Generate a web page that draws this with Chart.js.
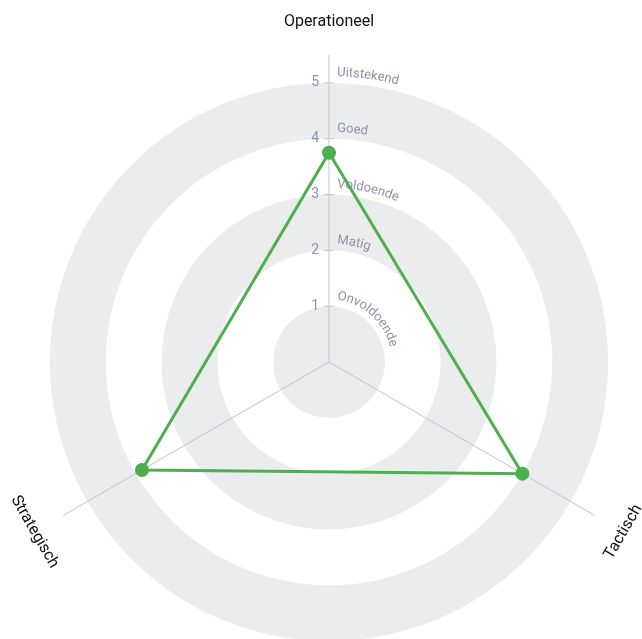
<!DOCTYPE html>
<html lang="nl">
<head>
  <meta charset="UTF-8">
  <title>Niveau radar</title>
  <style>
    html, body {
      margin: 0;
      padding: 0;
      background: #ffffff;
      overflow: hidden;
    }

    .chart-container {
      position: relative;
      width: 642px;
      height: 725px;
    }
  </style>
</head>
<body>

  <div class="chart-container">
    <canvas id="radarChart"></canvas>
  </div>

  <script src="https://cdn.jsdelivr.net/npm/chart.js"></script>

  <script>
    const axes = ["Operationeel", "Tactisch", "Strategisch"];
    const scores = [3.75, 4, 3.87];
    const tickValues = [1, 2, 3, 4, 5];
    const levelNames = ["Onvoldoende", "Matig", "Voldoende", "Goed", "Uitstekend"];

    const bandGrey = "#ebecee";
    const lineGrey = "#bfc5ce";
    const textGrey = "#8a93a5";
    const green = "#4caf50";

    Chart.defaults.font.family = "Roboto, 'Open Sans', sans-serif";

    // alternating grey / white rings, drawn from the outside in
    const bandsPlugin = {
      id: "bands",
      beforeDraw(chart) {
        const scale = chart.scales.r;
        const ctx = chart.ctx;
        ctx.save();
        for (let i = tickValues.length - 1; i >= 0; i--) {
          const r = scale.getDistanceFromCenterForValue(tickValues[i]);
          ctx.beginPath();
          ctx.arc(scale.xCenter, scale.yCenter, r, 0, Math.PI * 2);
          ctx.fillStyle = (tickValues.length - 1 - i) % 2 === 0 ? bandGrey : "#ffffff";
          ctx.fill();
        }
        ctx.restore();
      }
    };

    // tick marks, numbers, curved level names and rotated axis names
    const labelsPlugin = {
      id: "labels",
      beforeDatasetsDraw(chart) {
        const scale = chart.scales.r;
        const ctx = chart.ctx;
        const cx = scale.xCenter;
        const cy = scale.yCenter;
        ctx.save();

        tickValues.forEach((v, i) => {
          const d = scale.getDistanceFromCenterForValue(v);

          ctx.strokeStyle = lineGrey;
          ctx.lineWidth = 1;
          ctx.beginPath();
          ctx.moveTo(cx - 5, cy - d);
          ctx.lineTo(cx + 5, cy - d);
          ctx.stroke();

          ctx.fillStyle = textGrey;
          ctx.font = "14px Roboto";
          ctx.textAlign = "right";
          ctx.textBaseline = "middle";
          ctx.fillText(String(v), cx - 10, cy - d);

          // level name bent along the ring
          const text = levelNames[i];
          const r = d + 7;
          ctx.font = "13px Roboto";
          ctx.textAlign = "center";
          ctx.textBaseline = "alphabetic";
          let along = 8;
          for (const ch of text) {
            const w = ctx.measureText(ch).width;
            const a = -Math.PI / 2 + (along + w / 2) / r;
            ctx.save();
            ctx.translate(cx + r * Math.cos(a), cy + r * Math.sin(a));
            ctx.rotate(a + Math.PI / 2);
            ctx.fillText(ch, 0, 0);
            ctx.restore();
            along += w;
          }
        });

        ctx.font = "16px Roboto";
        ctx.fillStyle = "#111111";
        ctx.textAlign = "center";
        ctx.textBaseline = "middle";
        axes.forEach((name, i) => {
          const angle = scale.getIndexAngle(i);
          const pos = scale.getPointPosition(i, scale.drawingArea + 33);
          let rot = angle;
          if (angle > Math.PI / 2 && angle < Math.PI * 1.5) rot = angle - Math.PI;
          ctx.save();
          ctx.translate(pos.x, pos.y);
          ctx.rotate(rot);
          ctx.fillText(name, 0, 0);
          ctx.restore();
        });

        ctx.restore();
      }
    };

    new Chart(document.getElementById("radarChart"), {
      type: "radar",
      data: {
        labels: axes,
        datasets: [{
          label: "Score",
          data: scores,
          borderColor: green,
          backgroundColor: "transparent",
          borderWidth: 3,
          fill: false,
          pointBackgroundColor: green,
          pointBorderColor: green,
          pointRadius: 6,
          pointBorderWidth: 2
        }]
      },
      options: {
        responsive: true,
        maintainAspectRatio: false,
        animation: false,
        layout: {
          padding: { left: 17, right: 0, top: 55, bottom: 55 }
        },
        scales: {
          r: {
            min: 0,
            max: 5.5,
            ticks: { display: false, stepSize: 1 },
            grid: { display: false },
            angleLines: { color: lineGrey, lineWidth: 1 },
            pointLabels: { display: false }
          }
        },
        plugins: {
          legend: { display: false },
          tooltip: { enabled: false }
        }
      },
      plugins: [bandsPlugin, labelsPlugin]
    });
  </script>

</body>
</html>
